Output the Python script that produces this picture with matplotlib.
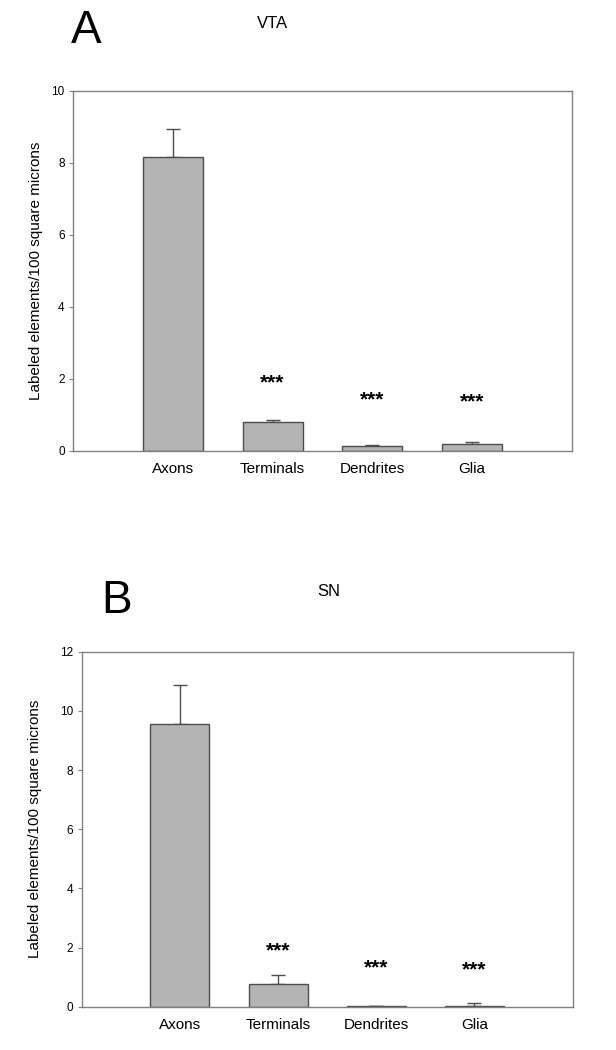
import matplotlib.pyplot as plt
import numpy as np

plt.rcParams['font.family'] = ['Liberation Sans', 'DejaVu Sans']

categorias = ['Axons', 'Terminals', 'Dendrites', 'Glia']

# painel A (VTA)
vta_media = [8.17, 0.81, 0.15, 0.19]
vta_erro = [0.77, 0.05, 0.02, 0.05]
vta_estrelas = [None, 1.94, 1.49, 1.43]

# painel B (SN)
sn_media = [9.57, 0.77, 0.03, 0.03]
sn_erro = [1.30, 0.30, 0.01, 0.11]
sn_estrelas = [None, 1.95, 1.39, 1.33]

ylabel = 'Labeled elements/100 square microns'
cinza = '#808080'


def painel(ax, media, erro, estrelas, ymax, yticks, labelpad):
    x = np.arange(len(categorias))
    ax.bar(x, media, width=0.6, color='#b4b4b4', edgecolor='#4d4d4d',
           linewidth=1.0, zorder=2)
    ax.errorbar(x, media, yerr=[np.zeros(len(erro)), erro], fmt='none',
                ecolor='#4d4d4d', elinewidth=1.0, capsize=5, capthick=1.0,
                zorder=1)
    for xi, s in zip(x, estrelas):
        if s is None:
            continue
        ax.annotate('***', (xi, s), xytext=(0, -5.5), textcoords='offset points',
                    ha='center', va='baseline', fontsize=15, fontweight='bold')
    ax.set_xlim(-1, 4)
    ax.set_ylim(0, ymax)
    ax.set_yticks(yticks)
    ax.set_xticks(x)
    ax.set_xticklabels(categorias, fontsize=11)
    ax.tick_params(axis='x', length=0, pad=8)
    ax.tick_params(axis='y', length=3, color=cinza, labelsize=8.5, pad=3)
    for sp in ax.spines.values():
        sp.set_color(cinza)
        sp.set_linewidth(1.0)
    ax.set_ylabel(ylabel, fontsize=11, labelpad=labelpad)


fig = plt.figure(figsize=(6.16, 10.5), dpi=100)

axA = fig.add_axes([0.1185, 0.5705, 0.810, 0.3429])
painel(axA, vta_media, vta_erro, vta_estrelas, 10, [0, 2, 4, 6, 8, 10], 6)

axB = fig.add_axes([0.1326, 0.0412, 0.797, 0.3381])
painel(axB, sn_media, sn_erro, sn_estrelas, 12, [0, 2, 4, 6, 8, 10, 12], 13)

fig.text(0.1396, 0.9705, 'A', fontsize=33, ha='center', va='center')
fig.text(0.443, 0.9776, 'VTA', fontsize=12, ha='center', va='center')
fig.text(0.189, 0.4276, 'B', fontsize=33, ha='center', va='center')
fig.text(0.533, 0.4367, 'SN', fontsize=12, ha='center', va='center')

fig.savefig('out.png', dpi=100)
